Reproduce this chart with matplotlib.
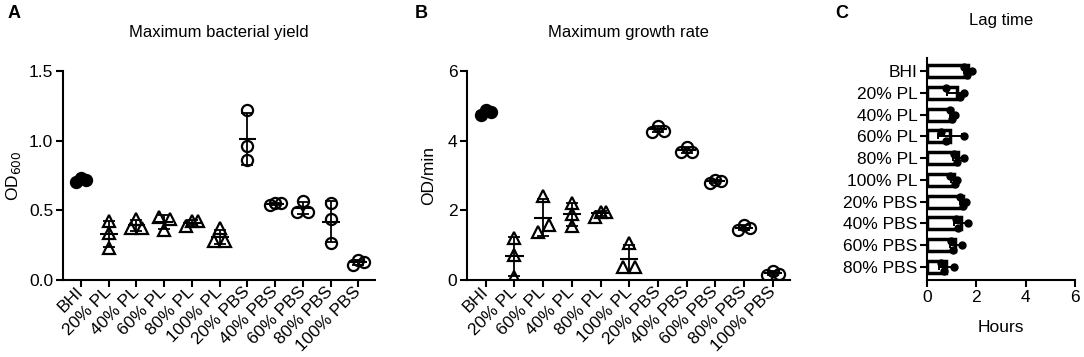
import numpy as np
import matplotlib
matplotlib.use('Agg')
import matplotlib.pyplot as plt

plt.rcParams['font.family'] = ['Liberation Sans', 'DejaVu Sans']
plt.rcParams['font.size'] = 12

# panel A: maximum bacterial yield (OD600), three replicates per condition
yield_labels = ['BHI', '20% PL', '40% PL', '60% PL', '80% PL', '100% PL',
                '20% PBS', '40% PBS', '60% PBS', '80% PBS', '100% PBS']
yield_values = [
    [0.70, 0.73, 0.72],
    [0.42, 0.34, 0.23],
    [0.44, 0.37, 0.37],
    [0.45, 0.44, 0.36],
    [0.39, 0.42, 0.42],
    [0.37, 0.28, 0.28],
    [1.22, 0.96, 0.86],
    [0.54, 0.555, 0.55],
    [0.57, 0.49, 0.49],
    [0.555, 0.435, 0.265],
    [0.11, 0.145, 0.13],
]

# panel B: maximum growth rate (OD/min)
rate_labels = ['BHI', '20% PL', '60% PL', '40% PL', '80% PL', '100% PL',
               '20% PBS', '40% PBS', '60% PBS', '80% PBS', '100% PBS']
rate_values = [
    [4.74, 4.88, 4.83],
    [1.22, 0.72, 0.10],
    [2.41, 1.39, 1.58],
    [2.22, 1.89, 1.56],
    [1.82, 1.96, 1.96],
    [1.07, 0.38, 0.38],
    [4.26, 4.43, 4.29],
    [3.68, 3.83, 3.68],
    [2.79, 2.87, 2.85],
    [1.44, 1.58, 1.48],
    [0.14, 0.26, 0.18],
]

# panel C: lag time (hours)
lag_labels = ['BHI', '20% PL', '40% PL', '60% PL', '80% PL', '100% PL',
              '20% PBS', '40% PBS', '60% PBS', '80% PBS']
lag_values = [
    [1.50, 1.62, 1.82],
    [0.78, 1.35, 1.48],
    [0.95, 1.02, 1.12],
    [0.55, 0.75, 1.48],
    [1.08, 1.20, 1.50],
    [0.95, 1.15, 1.20],
    [1.35, 1.45, 1.60],
    [1.18, 1.25, 1.65],
    [0.98, 1.05, 1.42],
    [0.55, 0.68, 1.08],
]

# horizontal spread of overlapping replicate symbols (layout only)
yield_jitter = [[-0.17, 0, 0.17], [0, 0, 0], [0, -0.2, 0.2], [-0.2, 0.2, 0],
                [-0.2, 0, 0.2], [0, -0.2, 0.2], [0, 0, 0], [-0.2, 0, 0.2],
                [0, -0.2, 0.2], [0, 0, 0], [-0.2, 0, 0.2]]
rate_jitter = [[-0.17, 0, 0.17], [0, 0, 0], [0, -0.16, 0.2], [0, 0, 0],
               [-0.2, 0, 0.2], [0, -0.2, 0.2], [-0.2, 0, 0.2], [-0.2, 0, 0.2],
               [-0.2, 0, 0.2], [-0.2, 0, 0.2], [-0.2, 0, 0.2]]
lag_jitter = [-0.2, 0.2, 0.0]


def marker_for(label):
    if label == 'BHI':
        return 'o', 'black'
    if 'PBS' in label:
        return 'o', 'none'
    return '^', 'none'


def scatter_panel(ax, labels, values, jitter):
    for i, (lab, vals) in enumerate(zip(labels, values)):
        m, fc = marker_for(lab)
        xs = [i + j for j in jitter[i]]
        ax.plot(xs, vals, ls='none', marker=m, ms=8, mfc=fc, mec='black',
                mew=1.6, zorder=3)
        mean = np.mean(vals)
        sd = np.std(vals, ddof=1)
        ax.errorbar(i, mean, yerr=sd, fmt='none', ecolor='black',
                    elinewidth=1.3, capsize=4.5, capthick=1.3, zorder=4)
        ax.hlines(mean, i - 0.32, i + 0.32, color='black', lw=1.5, zorder=4)
    ax.set_xticks(range(len(labels)))
    ax.set_xticklabels(labels, rotation=45, ha='right', va='center',
                       rotation_mode='anchor')
    ax.set_xlim(-0.65, len(labels) - 0.4)


def style(ax):
    for s in ['top', 'right']:
        ax.spines[s].set_visible(False)
    for s in ['left', 'bottom']:
        ax.spines[s].set_linewidth(1.5)
    ax.tick_params(width=1.5, length=5, pad=2, labelsize=12.5)


W, H = 1084, 357
fig = plt.figure(figsize=(W / 100, H / 100), dpi=100)

axA = fig.add_axes([63 / W, 1 - 280 / H, (375 - 63) / W, (280 - 71) / H])
axB = fig.add_axes([467 / W, 1 - 280 / H, (790 - 467) / W, (280 - 71) / H])
axC = fig.add_axes([927 / W, 1 - 280 / H, (1075 - 927) / W, (280 - 58) / H])

scatter_panel(axA, yield_labels, yield_values, yield_jitter)
axA.set_ylim(0, 1.5)
axA.set_yticks([0, 0.5, 1.0, 1.5])
axA.set_yticklabels(['0.0', '0.5', '1.0', '1.5'])
axA.set_ylabel('OD$_{600}$', fontsize=12.5, labelpad=4)
style(axA)

scatter_panel(axB, rate_labels, rate_values, rate_jitter)
axB.set_ylim(0, 6)
axB.set_yticks([0, 2, 4, 6])
axB.set_ylabel('OD/min', fontsize=12.5, labelpad=8)
style(axB)

# panel C: horizontal bars with SD and replicate dots
ypos = np.arange(len(lag_labels))
means = [np.mean(v) for v in lag_values]
sds = [np.std(v, ddof=1) for v in lag_values]
axC.barh(ypos, means, height=0.55, color='white', edgecolor='black',
         linewidth=2.5, zorder=2)
axC.errorbar(means, ypos, xerr=sds, fmt='none', ecolor='black',
             elinewidth=1.4, capsize=2.5, capthick=1.4, zorder=3)
for i, vals in enumerate(lag_values):
    axC.plot(vals, [i + j for j in lag_jitter], ls='none', marker='o', ms=5,
             color='black', zorder=4)
axC.set_yticks(ypos)
axC.set_yticklabels(lag_labels)
axC.set_ylim(len(lag_labels) - 0.4, -0.6)
axC.set_xlim(0, 6)
axC.set_xticks([0, 2, 4, 6])
style(axC)

fig.text(219 / W, 1 - 33 / H, 'Maximum bacterial yield', ha='center',
         va='center', fontsize=12)
fig.text(628 / W, 1 - 33 / H, 'Maximum growth rate', ha='center',
         va='center', fontsize=12)
fig.text(1001 / W, 1 - 21 / H, 'Lag time', ha='center', va='center',
         fontsize=12)
fig.text(1001 / W, 1 - 328 / H, 'Hours', ha='center', va='center',
         fontsize=12.5)

fig.text(14 / W, 1 - 13 / H, 'A', ha='center', va='center', fontsize=13,
         fontweight='bold')
fig.text(421 / W, 1 - 13 / H, 'B', ha='center', va='center', fontsize=13,
         fontweight='bold')
fig.text(842 / W, 1 - 13 / H, 'C', ha='center', va='center', fontsize=13,
         fontweight='bold')

fig.savefig('out.png', dpi=100)
